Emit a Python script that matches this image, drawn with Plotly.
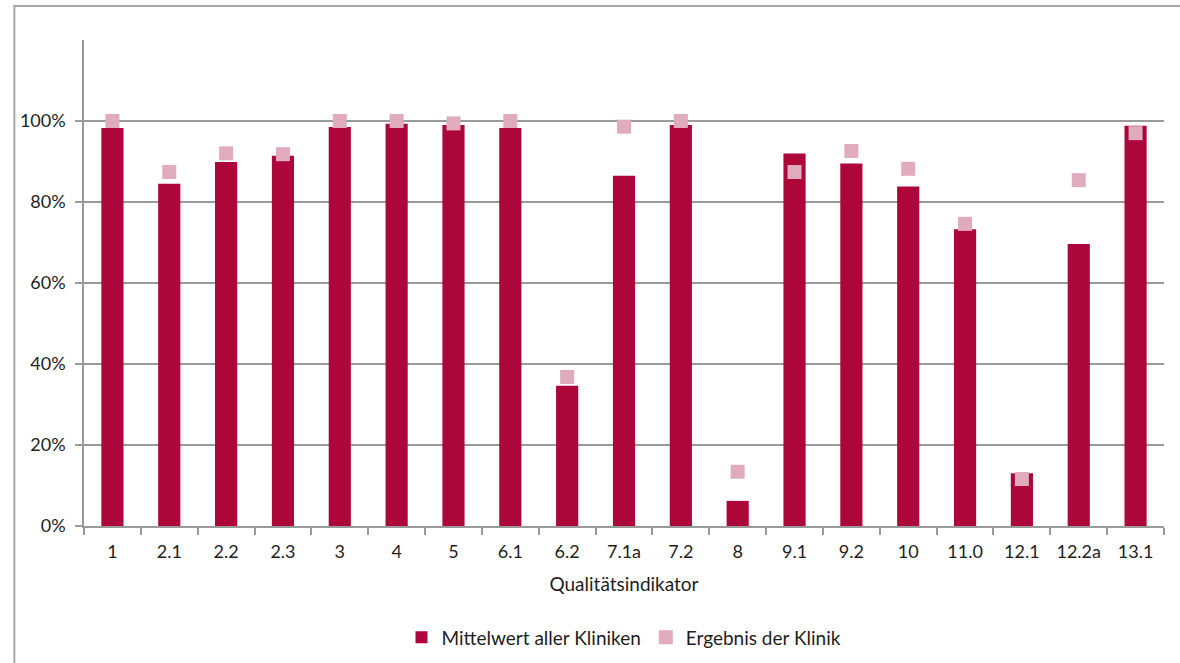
import plotly.graph_objects as go

categories = ["1", "2.1", "2.2", "2.3", "3", "4", "5", "6.1", "6.2", "7.1a",
              "7.2", "8", "9.1", "9.2", "10", "11.0", "12.1", "12.2a", "13.1"]
mittelwert = [0.983, 0.845, 0.899, 0.914, 0.985, 0.993, 0.990, 0.983, 0.346, 0.865,
              0.990, 0.062, 0.920, 0.895, 0.838, 0.733, 0.130, 0.696, 0.988]
ergebnis = [1.000, 0.874, 0.920, 0.918, 1.000, 1.000, 0.994, 1.000, 0.368, 0.986,
            1.000, 0.134, 0.874, 0.926, 0.882, 0.746, 0.116, 0.854, 0.970]
y_tickvals = [0, 0.2, 0.4, 0.6, 0.8, 1.0]
y_ticktext = ["0%", "20%", "40%", "60%", "80%", "100%"]

FONT = "Lato, 'Open Sans', sans-serif"
GRID = "#9a9a9a"
TXT = "#1e1e1e"

fig = go.Figure()
fig.add_trace(go.Bar(
    x=categories, y=mittelwert, name="Mittelwert aller Kliniken",
    marker=dict(color="#AD063B", line=dict(width=0)),
))
fig.add_trace(go.Scatter(
    x=categories, y=ergebnis, name="Ergebnis der Klinik", mode="markers",
    marker=dict(symbol="square", size=14, color="#E0ABBC", line=dict(width=0)),
))

fig.update_layout(
    width=1180, height=663,
    margin=dict(l=84, r=16, t=40, b=137, autoexpand=False),
    paper_bgcolor="white", plot_bgcolor="white",
    bargap=0.61,
    font=dict(family=FONT, size=18, color=TXT),
    showlegend=True,
    legend=dict(orientation="h", x=0.5, xanchor="center", y=-0.19, yanchor="top",
                font=dict(size=19, color=TXT), itemwidth=30,
                traceorder="normal"),
    shapes=[dict(type="rect", xref="paper", yref="paper",
                 x0=-0.0645, x1=1.2, y0=-0.5, y1=1.07,
                 line=dict(color="#a6a6a6", width=2), layer="below")],
)
fig.update_xaxes(
    type="category", range=[-0.5, len(categories) - 0.5], autorange=False,
    showline=True, linecolor=GRID, linewidth=1.5,
    ticks="outside", tickson="boundaries", ticklen=7, tickcolor=GRID, tickwidth=1.5,
    ticklabelstandoff=9,
    tickfont=dict(size=18, color=TXT), showgrid=False,
    title=dict(text="Qualitätsindikator", font=dict(size=19, color=TXT), standoff=16),
)
fig.update_yaxes(
    range=[0, 1.2], tickvals=y_tickvals, ticktext=y_ticktext,
    showline=True, linecolor=GRID, linewidth=1.5,
    showgrid=True, gridcolor=GRID, gridwidth=1.5,
    ticks="outside", ticklen=7, tickcolor=GRID, tickwidth=1.5,
    ticklabelstandoff=6,
    tickfont=dict(size=18, color=TXT), zeroline=False,
)

fig.write_html("out.html")
